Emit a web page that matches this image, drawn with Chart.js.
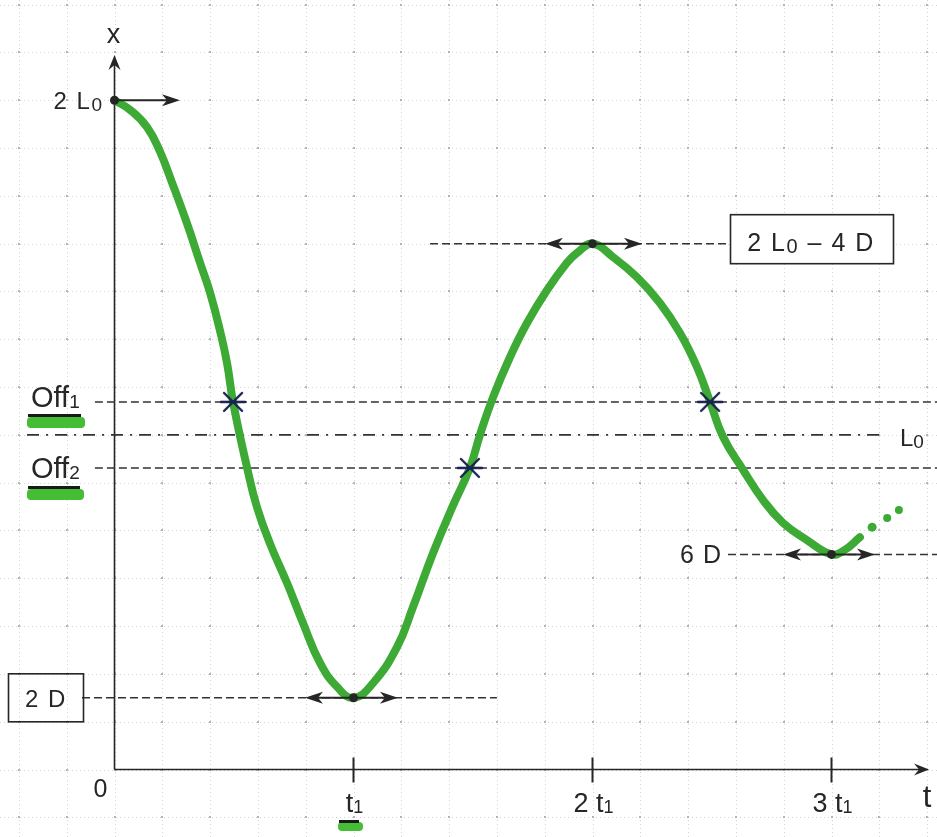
<!DOCTYPE html>
<html>
<head>
<meta charset="utf-8">
<script src="https://cdn.jsdelivr.net/npm/chart.js@4.4.1/dist/chart.umd.min.js"></script>
<style>
  html, body { margin: 0; padding: 0; background: #ffffff; }
  canvas { display: block; }
</style>
</head>
<body>
<canvas id="c" width="937" height="837" style="width:937px;height:837px"></canvas>
<script>
// Time is measured in multiples of t1, position in grid squares (L0 = 7, D = 0.75).
const curveT = [0, 0.065, 0.136, 0.190, 0.245, 0.303, 0.358, 0.400, 0.441, 0.471, 0.496, 0.554, 0.596, 0.651, 0.722, 0.789, 0.860, 0.931,
                1.0, 1.082, 1.182, 1.249, 1.333, 1.416, 1.487, 1.529, 1.584, 1.655, 1.726, 1.810, 1.893, 1.936,
                2.0, 2.086, 2.186, 2.282, 2.366, 2.437, 2.492, 2.546, 2.630, 2.713, 2.797, 2.897, 3.0, 3.054, 3.119];
const curveX = [14.0, 13.80, 13.44, 12.93, 12.22, 11.43, 10.60, 9.97, 9.19, 8.50, 7.69, 6.33, 5.49, 4.72, 3.90, 3.06, 2.23, 1.73,
                1.5, 1.81, 2.56, 3.40, 4.53, 5.52, 6.31, 7.00, 7.79, 8.63, 9.34, 10.03, 10.60, 10.81,
                11.0, 10.72, 10.30, 9.76, 9.13, 8.42, 7.69, 6.96, 6.27, 5.64, 5.16, 4.80, 4.5, 4.59, 4.86];

// dotted continuation after 3 t1
const tailT = [3.170, 3.233, 3.282];
const tailX = [5.07, 5.26, 5.43];

// turning points and the crossings of the offset levels
const extremaT = [0, 1, 2, 3];
const extremaX = [14, 1.5, 11, 4.5];
const crossT = [0.496, 1.487, 2.492];
const crossX = [7.69, 6.31, 7.69];

// horizontal reference levels and their extent in t
const levelNames = ['Off1', 'L0', 'Off2', '2D', '2L0-4D', '6D'];
const levelX    = [7.69, 7.0, 6.31, 1.5, 11, 4.5];
const levelFrom = [-0.082, -0.366, -0.082, -0.136, 1.320, 2.567];
const levelTo   = [3.45, 3.203, 3.45, 1.600, 2.575, 3.45];

// horizontal arrows at the turning points
const arrowX    = [14, 1.5, 11, 4.5];
const arrowFrom = [0, 0.797, 1.801, 2.797];
const arrowTo   = [0.274, 1.186, 2.207, 3.182];

// time axis ticks
const tickT = [1, 2, 3];
const tickPrefix = ['t', '2 t', '3 t'];

// axis extents
const T_MIN = -0.4791, T_MAX = 3.4414;
const X_MIN = -1.412, X_MAX = 16.098;
const T_AXIS_END = 3.408, X_AXIS_END = 14.95;

const GREEN = '#3caa34';
const INK = '#262626';
const FONT = '"Liberation Sans", Arial, sans-serif';

function makeStar() {
  const c = document.createElement('canvas');
  c.width = 30; c.height = 24;
  const g = c.getContext('2d');
  g.strokeStyle = '#1b2350';
  g.lineWidth = 2.4;
  g.lineCap = 'round';
  g.beginPath();
  g.moveTo(3, 12); g.lineTo(27, 12);
  g.moveTo(6, 3); g.lineTo(24, 21);
  g.moveTo(6, 21); g.lineTo(24, 3);
  g.stroke();
  return c;
}

const levelStyle = {
  'L0': [12, 7, 2, 7]
};

const levelSets = levelNames.map((name, i) => ({
  label: name,
  data: [{x: levelFrom[i], y: levelX[i]}, {x: levelTo[i], y: levelX[i]}],
  showLine: true,
  borderColor: '#333333',
  borderWidth: name === 'L0' ? 1.8 : 1.5,
  borderDash: levelStyle[name] || [8, 4],
  pointRadius: 0,
  order: 5
}));

function arrowHead(ctx, x, y, dir, len, half) {
  ctx.beginPath();
  ctx.moveTo(x, y);
  ctx.lineTo(x - dir * len, y - half);
  ctx.lineTo(x - dir * (len - 5), y);
  ctx.lineTo(x - dir * len, y + half);
  ctx.closePath();
  ctx.fill();
}

function rich(ctx, parts, x, y, align, spacing) {
  ctx.letterSpacing = (spacing || 0) + 'px';
  let w = 0;
  const widths = parts.map(p => {
    ctx.font = p[1] + 'px ' + FONT;
    const m = ctx.measureText(p[0]).width;
    w += m;
    return m;
  });
  let sx = align === 'right' ? x - w : (align === 'center' ? x - w / 2 : x);
  ctx.textAlign = 'left';
  ctx.textBaseline = 'alphabetic';
  parts.forEach((p, i) => {
    ctx.font = p[1] + 'px ' + FONT;
    ctx.fillText(p[0], sx, y + (p[2] || 0));
    sx += widths[i];
  });
  ctx.letterSpacing = '0px';
}

const paper = {
  id: 'paper',
  beforeDatasetsDraw(chart) {
    const ctx = chart.ctx;
    const xs = chart.scales.x, ys = chart.scales.y;
    ctx.save();
    // dotted grid, five squares per t1
    ctx.strokeStyle = '#d4d4d4';
    ctx.lineWidth = 1;
    ctx.setLineDash([1, 3]);
    for (let k = -2; k <= 17; k++) {
      const px = Math.round(xs.getPixelForValue(k * 0.2)) + 0.5;
      ctx.beginPath(); ctx.moveTo(px, 0); ctx.lineTo(px, chart.height); ctx.stroke();
    }
    for (let k = -1; k <= 16; k++) {
      const py = Math.round(ys.getPixelForValue(k)) + 0.5;
      ctx.beginPath(); ctx.moveTo(0, py); ctx.lineTo(chart.width, py); ctx.stroke();
    }
    ctx.setLineDash([]);
    ctx.fillStyle = '#b4b4b4';
    for (let i = -2; i <= 17; i++) {
      for (let j = -1; j <= 16; j++) {
        const px = Math.round(xs.getPixelForValue(i * 0.2));
        const py = Math.round(ys.getPixelForValue(j));
        ctx.fillRect(px - 1, py - 1, 2, 2);
      }
    }
    // axes
    const ox = xs.getPixelForValue(0), oy = ys.getPixelForValue(0);
    const tEnd = xs.getPixelForValue(T_AXIS_END), xEnd = ys.getPixelForValue(X_AXIS_END);
    ctx.strokeStyle = INK;
    ctx.fillStyle = INK;
    ctx.lineWidth = 1.6;
    ctx.beginPath();
    ctx.moveTo(ox, oy); ctx.lineTo(tEnd - 8, oy);
    ctx.moveTo(ox, oy); ctx.lineTo(ox, xEnd + 8);
    ctx.stroke();
    arrowHead(ctx, tEnd, oy, 1, 15, 6);
    ctx.beginPath();
    ctx.moveTo(ox, xEnd);
    ctx.lineTo(ox - 6, xEnd + 15);
    ctx.lineTo(ox, xEnd + 10);
    ctx.lineTo(ox + 6, xEnd + 15);
    ctx.closePath();
    ctx.fill();
    // ticks on the time axis
    ctx.lineWidth = 2;
    tickT.forEach(t => {
      const px = xs.getPixelForValue(t);
      ctx.beginPath(); ctx.moveTo(px, oy - 12); ctx.lineTo(px, oy + 13); ctx.stroke();
    });
    ctx.restore();
  },
  afterDatasetsDraw(chart) {
    const ctx = chart.ctx;
    const xs = chart.scales.x, ys = chart.scales.y;
    ctx.save();
    // arrows at the turning points
    ctx.strokeStyle = INK;
    ctx.fillStyle = INK;
    ctx.lineWidth = 2;
    arrowX.forEach((v, i) => {
      const py = ys.getPixelForValue(v);
      const a = xs.getPixelForValue(arrowFrom[i]);
      const b = xs.getPixelForValue(arrowTo[i]);
      const both = i > 0;
      ctx.beginPath();
      ctx.moveTo(both ? a + 8 : a, py); ctx.lineTo(b - 8, py);
      ctx.stroke();
      arrowHead(ctx, b, py, 1, 18, 6);
      if (both) arrowHead(ctx, a, py, -1, 18, 6);
    });
    // turning point dots on top
    extremaT.forEach((t, i) => {
      ctx.beginPath();
      ctx.arc(xs.getPixelForValue(t), ys.getPixelForValue(extremaX[i]), 4.5, 0, Math.PI * 2);
      ctx.fill();
    });

    // highlighter marks under symbols
    const mark = (x0, x1, yBar, yTop, yBot) => {
      ctx.fillStyle = '#45bd35';
      ctx.beginPath();
      ctx.roundRect(x0, yTop, x1 - x0, yBot - yTop, 4);
      ctx.fill();
      ctx.fillStyle = '#1a1a1a';
      ctx.fillRect(x0 + 1, yBar, x1 - x0 - 5, 3);
    };
    mark(27, 85, 414, 417, 428);
    mark(27, 84, 486, 489, 500);
    mark(338, 363, 820, 822, 831);

    // text
    ctx.fillStyle = INK;
    const ox = xs.getPixelForValue(0), oy = ys.getPixelForValue(0);
    rich(ctx, [['x', 27]], ox - 1, 43, 'center');
    rich(ctx, [['2 L', 24], ['0', 19, 2]], ox - 11, ys.getPixelForValue(14) + 9, 'right', 1.5);
    rich(ctx, [['Off', 29], ['1', 19, 1]], 31, ys.getPixelForValue(levelX[0]) + 5, 'left');
    rich(ctx, [['Off', 29], ['2', 19, 1]], 31, ys.getPixelForValue(levelX[2]) + 10, 'left');
    rich(ctx, [['L', 24], ['0', 19, 2]], 900, ys.getPixelForValue(levelX[1]) + 11, 'left');
    rich(ctx, [['0', 25]], ox - 14, oy + 27, 'center');
    tickT.forEach((t, i) => {
      rich(ctx, [[tickPrefix[i], 27], ['1', 18, 1]], xs.getPixelForValue(t) + 1, oy + 42, 'center');
    });
    rich(ctx, [['t', 31]], 927, oy + 37, 'center');
    rich(ctx, [['6 D', 25]], 722, ys.getPixelForValue(levelX[5]) + 9, 'right', 1);

    // boxed labels
    ctx.strokeStyle = INK;
    ctx.lineWidth = 1.6;
    const y2D = ys.getPixelForValue(levelX[3]);
    ctx.strokeRect(8.5, y2D - 24, 75, 48);
    rich(ctx, [['2 D', 24]], 46, y2D + 9, 'center', 1.5);
    const yTop = ys.getPixelForValue(levelX[4]);
    ctx.fillStyle = '#ffffff';
    ctx.fillRect(730, yTop - 29, 163, 49);
    ctx.strokeRect(730.5, yTop - 29, 163, 49);
    ctx.fillStyle = INK;
    rich(ctx, [['2 L', 25], ['0', 20, 2], [' \u2013 4 D', 25]], 811, yTop + 7, 'center', 1.5);
    ctx.restore();
  }
};

new Chart(document.getElementById('c'), {
  type: 'scatter',
  data: {
    datasets: [
      {
        label: 'crossings',
        data: crossT.map((t, i) => ({x: t, y: crossX[i]})),
        pointStyle: makeStar(),
        pointRadius: 10,
        showLine: false,
        order: 0
      },
      {
        label: 'x(t)',
        data: curveT.map((t, i) => ({x: t, y: curveX[i]})),
        showLine: true,
        borderColor: GREEN,
        borderWidth: 8,
        borderCapStyle: 'round',
        borderJoinStyle: 'round',
        tension: 0.45,
        pointRadius: 0,
        order: 2
      },
      {
        label: 'continuation',
        data: tailT.map((t, i) => ({x: t, y: tailX[i]})),
        showLine: false,
        pointRadius: [4.5, 4, 4],
        backgroundColor: GREEN,
        borderWidth: 0,
        order: 3
      },
      ...levelSets
    ]
  },
  options: {
    responsive: false,
    animation: false,
    events: [],
    layout: { padding: 0, autoPadding: false },
    plugins: { legend: { display: false }, tooltip: { enabled: false } },
    scales: {
      x: { type: 'linear', min: T_MIN, max: T_MAX, display: false },
      y: { type: 'linear', min: X_MIN, max: X_MAX, display: false }
    }
  },
  plugins: [paper]
});
</script>
</body>
</html>
